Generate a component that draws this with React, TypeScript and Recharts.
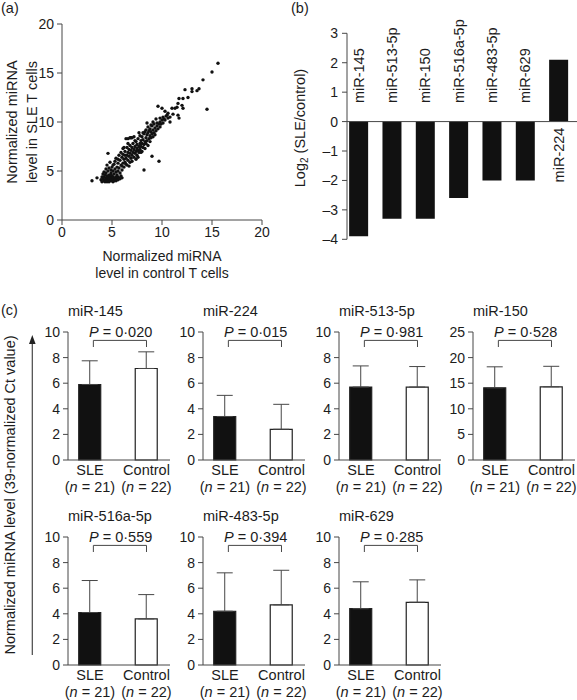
import React from 'react'
import {
  ScatterChart, Scatter, BarChart, Bar, XAxis, YAxis, ReferenceLine,
  Cell, ErrorBar, LabelList
} from 'recharts'

const FONT = '"Liberation Sans", Arial, sans-serif'
const TXT = '#1c1c1c'
const AX = '#474747'

// (a) normalized miRNA level: [control T cells, SLE T cells]
const scatterPoints: [number, number][] = [
  [3.0, 4.0], [3.5, 4.3], [3.9, 4.1], [4.0, 4.4], [4.0, 3.9], [4.1, 4.2], [4.1, 4.7], [4.2, 4.0],
  [4.2, 4.4], [4.3, 4.1], [4.3, 4.6], [4.3, 3.9], [4.4, 4.3], [4.4, 4.0], [4.4, 4.8], [4.5, 4.2],
  [4.5, 4.5], [4.5, 3.9], [4.6, 4.1], [4.6, 4.4], [4.6, 4.0], [4.7, 4.3], [4.7, 4.6], [4.7, 3.9],
  [4.8, 4.2], [4.8, 4.0], [4.8, 4.5], [4.9, 4.1], [4.9, 4.3], [4.9, 4.8], [5.0, 4.0], [5.0, 4.2],
  [5.0, 4.5], [5.1, 4.1], [5.1, 4.4], [5.1, 3.9], [5.2, 4.2], [5.2, 4.0], [5.2, 4.7], [5.3, 4.3],
  [5.3, 4.1], [5.4, 4.0], [5.4, 4.4], [5.5, 4.2], [5.5, 4.6], [5.6, 4.1], [5.6, 4.4], [5.7, 4.3],
  [5.8, 4.2], [5.9, 4.5], [6.0, 4.3], [4.2, 4.9], [4.4, 5.2], [4.6, 5.0], [4.5, 5.6], [4.7, 5.3],
  [4.8, 5.9], [4.9, 5.1], [5.0, 5.4], [5.1, 5.0], [5.2, 5.7], [5.3, 5.2], [5.3, 6.0], [5.4, 4.9],
  [5.5, 5.4], [5.6, 5.0], [5.6, 5.8], [5.7, 5.3], [5.8, 6.1], [5.8, 4.8], [5.9, 5.6], [6.0, 5.1],
  [6.0, 6.4], [4.6, 6.8], [5.7, 6.6], [5.9, 6.9], [6.0, 5.5], [6.2, 7.4], [6.4, 5.7], [6.7, 5.5],
  [6.3, 6.6], [5.1, 5.6], [5.4, 6.3], [4.9, 4.6], [5.6, 6.2], [6.1, 7.3], [6.6, 7.8], [7.3, 8.1],
  [6.1, 5.8], [6.1, 6.7], [6.2, 5.4], [6.2, 6.2], [6.3, 5.9], [6.3, 7.0], [6.4, 6.3], [6.4, 8.3],
  [6.5, 5.6], [6.5, 6.6], [6.5, 7.4], [6.6, 6.1], [6.6, 6.9], [6.6, 8.3], [6.7, 6.5], [6.7, 7.2],
  [6.8, 5.9], [6.8, 6.8], [6.8, 7.6], [6.9, 6.3], [6.9, 7.1], [6.9, 8.4], [7.0, 6.6], [7.0, 7.4],
  [7.0, 6.0], [7.1, 6.9], [7.1, 7.8], [7.2, 6.4], [7.2, 7.2], [7.2, 8.5], [7.3, 6.8], [7.3, 7.5],
  [7.4, 7.0], [7.4, 6.2], [7.4, 8.0], [7.5, 7.3], [7.5, 7.7], [7.5, 6.6], [7.6, 7.1], [7.6, 8.3],
  [7.7, 7.5], [7.7, 6.9], [7.8, 7.8], [7.8, 7.2], [7.8, 8.6], [7.9, 7.5], [7.9, 8.1], [8.0, 7.0],
  [8.0, 7.8], [8.0, 8.5], [8.1, 7.4], [8.1, 8.2], [8.2, 7.7], [8.2, 8.8], [8.2, 5.1], [8.3, 8.0],
  [8.3, 7.3], [8.4, 8.4], [8.4, 7.8], [8.5, 8.7], [8.5, 8.1], [8.5, 9.9], [8.6, 7.6], [8.6, 8.9],
  [8.6, 9.5], [8.7, 8.3], [8.7, 9.1], [8.8, 8.0], [8.8, 8.6], [8.9, 9.0], [8.9, 8.4], [9.0, 8.8],
  [9.0, 9.6], [9.0, 6.5], [9.1, 8.5], [9.1, 9.2], [9.1, 10.0], [9.2, 8.9], [9.3, 9.4], [9.3, 8.7],
  [9.4, 9.1], [9.5, 9.6], [9.5, 9.9], [9.6, 9.3], [9.6, 11.6], [9.7, 9.8], [9.7, 6.0], [9.8, 9.5],
  [9.8, 10.0], [9.8, 10.4], [9.9, 9.8], [10.0, 10.2], [10.0, 11.4], [10.1, 9.9], [10.1, 10.5],
  [10.2, 10.3], [10.3, 10.2], [10.3, 11.1], [10.4, 10.6], [10.5, 10.7], [10.6, 10.9], [10.6, 10.4],
  [10.8, 10.5], [10.8, 10.0], [11.0, 11.4], [11.1, 10.8], [11.3, 11.4], [11.5, 11.5], [11.6, 10.7],
  [11.6, 11.9], [11.7, 12.4], [11.7, 10.4], [12.0, 11.7], [12.1, 11.4], [12.1, 12.4], [12.3, 13.3],
  [12.6, 12.5], [13.0, 13.4], [13.0, 13.1], [13.5, 13.2], [13.7, 13.4], [14.1, 14.3], [14.5, 11.3],
  [15.0, 15.1], [15.6, 16.0], [7.0, 8.4], [6.8, 8.4], [7.6, 6.4], [7.9, 6.9], [8.3, 9.0], [8.4, 9.2],
  [8.8, 9.3], [9.2, 9.8], [9.4, 10.3], [7.7, 8.9], [8.1, 8.9], [8.9, 9.7]
]
const axisTicks20 = [0, 5, 10, 15, 20]

// (b) log2 fold change
const mirB = ['miR-145', 'miR-513-5p', 'miR-150', 'miR-516a-5p', 'miR-483-5p', 'miR-629', 'miR-224']
const log2Ratio = [-3.9, -3.3, -3.3, -2.6, -2.0, -2.0, 2.1]
const log2Ticks = [-4, -3, -2, -1, 0, 1, 2, 3]

// (c) qPCR validation
const cTitles = ['miR-145', 'miR-224', 'miR-513-5p', 'miR-150', 'miR-516a-5p', 'miR-483-5p', 'miR-629']
const pValues = ['0·020', '0·015', '0·981', '0·528', '0·559', '0·394', '0·285']
const sleMean = [5.9, 3.4, 5.7, 14.1, 4.1, 4.2, 4.4]
const sleErr = [1.85, 1.65, 1.65, 4.1, 2.5, 3.0, 2.1]
const ctlMean = [7.15, 2.4, 5.7, 14.3, 3.6, 4.7, 4.9]
const ctlErr = [1.3, 1.95, 1.6, 4.0, 1.9, 2.7, 1.75]
const yMax = [10, 10, 10, 25, 10, 10, 10]
const groups = ['SLE', 'Control']
const groupN = [21, 22]

// layout of the small panels
const subAxisX = [68, 203, 339, 473, 68, 203, 339]
const subPlotTop = [332.3, 332.3, 332.3, 332.3, 536.7, 536.7, 536.7]

const fmtMinus = (v: number) => (v < 0 ? `–${-v}` : `${v}`)

const Dot = (p: any) => <circle cx={p.cx} cy={p.cy} r={1.7} fill="#111" />

const BarNameLabel = (props: any) => {
  const vb = props.viewBox || props
  const { x, y, width, height } = vb
  const idx = mirB.indexOf(props.value)
  const v = log2Ratio[idx]
  const cx = x + width / 2
  const top = Math.min(y, y + height)
  const bottom = Math.max(y, y + height)
  const ay = v < 0 ? top - 18.5 : bottom + 6
  return (
    <text x={cx} y={ay} transform={`rotate(-90 ${cx} ${ay})`} textAnchor={v < 0 ? 'start' : 'end'}
      dy="0.35em" fontSize={14.5} fill={TXT}>{props.value}</text>
  )
}

const GroupTick = (props: any) => {
  const { x, y, payload } = props
  const k = payload.value
  return (
    <g>
      <text x={x} y={y + 15} textAnchor="middle" fontSize={14.5} fill={TXT}>{groups[k]}</text>
      <text x={x} y={y + 31.5} textAnchor="middle" fontSize={14.5} fill={TXT}>
        (<tspan fontStyle="italic">n</tspan> = {groupN[k]})
      </text>
    </g>
  )
}

const Sub = ({ i }: { i: number }) => {
  const PL = 40, PT = 36, PH = 128, PW = 102
  const max = yMax[i]
  const step = max === 25 ? 5 : 2
  const ticks = Array.from({ length: max / step + 1 }, (_, k) => k * step)
  const data = groups.map((g, k) => ({
    idx: k,
    name: g,
    mean: k === 0 ? sleMean[i] : ctlMean[i],
    err: [0, k === 0 ? sleErr[i] : ctlErr[i]]
  }))
  const bt = max * (1 - 8.4 / PH)
  const bb = max * (1 - 15 / PH)
  const line = { stroke: AX, strokeWidth: 1 }
  return (
    <div style={{ position: 'absolute', left: subAxisX[i] - PL, top: subPlotTop[i] - PT }}>
      <BarChart width={PL + PW + 6} height={PT + PH + 40} data={data}
        margin={{ top: PT, left: 0, right: 6, bottom: 0 }}>
        <XAxis type="number" dataKey="idx" domain={[-0.389, 1.416]} ticks={[0, 1]} height={40}
          tickLine={false} tickSize={0} tickMargin={0} tick={<GroupTick />} axisLine={line} />
        <YAxis type="number" domain={[0, max]} ticks={ticks} width={PL} tickSize={5} tickMargin={3}
          interval={0} tick={{ fontSize: 14, fill: TXT }} axisLine={line} tickLine={line} />
        <ReferenceLine segment={[{ x: 0.06, y: bt }, { x: 1.0, y: bt }]} {...line} />
        <ReferenceLine segment={[{ x: 0.06, y: bb }, { x: 0.06, y: bt }]} {...line} />
        <ReferenceLine segment={[{ x: 1.0, y: bb }, { x: 1.0, y: bt }]} {...line} />
        <Bar dataKey="mean" barSize={22} isAnimationActive={false}>
          {data.map((d, k) => (
            <Cell key={d.name} fill={k === 0 ? '#111' : '#fff'} stroke="#222" strokeWidth={1.2} />
          ))}
          <ErrorBar dataKey="err" width={8} stroke={AX} strokeWidth={1} direction="y" />
        </Bar>
      </BarChart>
      <svg width={PL + PW + 40} height={PT + 10}
        style={{ position: 'absolute', left: 0, top: 0, pointerEvents: 'none', overflow: 'visible' }}>
        <text x={PL} y={PT - 16.5} fontSize={14.5} fill={TXT}>{cTitles[i]}</text>
        <text x={PL + 21} y={PT + 5} fontSize={14.5} fill={TXT}>
          <tspan fontStyle="italic">P</tspan> = {pValues[i]}
        </text>
      </svg>
    </div>
  )
}

export default function App() {
  const bData = mirB.map((name, k) => ({ idx: k, name, v: log2Ratio[k] }))
  const line = { stroke: AX, strokeWidth: 1 }
  return (
    <div style={{
      position: 'absolute', left: 0, top: 0, width: 577, height: 700, overflow: 'hidden',
      background: '#fff', fontFamily: FONT
    }}>
      {/* (a) scatter */}
      <div style={{ position: 'absolute', left: 0, top: 0 }}>
        <ScatterChart width={290} height={290} margin={{ top: 24, right: 28, left: 0, bottom: 40 }}>
          <XAxis type="number" dataKey="x" domain={[0, 20]} ticks={axisTicks20} height={30}
            tickSize={5} tickMargin={2} tick={{ fontSize: 14, fill: TXT }} axisLine={line} tickLine={line} />
          <YAxis type="number" dataKey="y" domain={[0, 20]} ticks={axisTicks20} width={62}
            tickSize={5} tickMargin={3} tick={{ fontSize: 14, fill: TXT }} axisLine={line} tickLine={line} />
          <Scatter data={scatterPoints.map(([x, y]) => ({ x, y }))} shape={<Dot />} isAnimationActive={false} />
        </ScatterChart>
      </div>

      {/* (b) log2 ratio */}
      <div style={{ position: 'absolute', left: 290, top: 0 }}>
        <BarChart width={287} height={290} data={bData}
          margin={{ top: 33.3, right: 0, left: 0, bottom: 50.7 }}>
          <XAxis type="number" dataKey="idx" domain={[-0.354, 6.546]} ticks={[0, 1, 2, 3, 4, 5, 6]} hide />
          <YAxis type="number" domain={[-4, 3]} ticks={log2Ticks} width={57} tickSize={5} tickMargin={4}
            interval={0} tickFormatter={fmtMinus} tick={{ fontSize: 14, fill: TXT }}
            axisLine={line} tickLine={line} />
          <Bar dataKey="v" barSize={19} fill="#111" isAnimationActive={false}>
            <LabelList dataKey="name" content={<BarNameLabel />} />
          </Bar>
          <ReferenceLine y={0} {...line} />
        </BarChart>
      </div>

      {cTitles.map((t, i) => <Sub key={t} i={i} />)}

      <svg width={577} height={700} style={{ position: 'absolute', left: 0, top: 0, pointerEvents: 'none' }}
        fontFamily={FONT} fill={TXT}>
        <text x={1} y={12.5} fontSize={14.5}>(a)</text>
        <text x={291} y={12.5} fontSize={14.5}>(b)</text>
        <text x={1} y={315} fontSize={14.5}>(c)</text>

        <text x={162} y={261} textAnchor="middle" fontSize={14}>Normalized miRNA</text>
        <text x={162} y={277.5} textAnchor="middle" fontSize={14}>level in control T cells</text>
        <text x={11.5} y={122} transform="rotate(-90 11.5 122)" textAnchor="middle" dy="0.35em"
          fontSize={14.5}>Normalized miRNA</text>
        <text x={32} y={122} transform="rotate(-90 32 122)" textAnchor="middle" dy="0.35em"
          fontSize={14.5}>level in SLE T cells</text>

        <text x={299.5} y={128} transform="rotate(-90 299.5 128)" textAnchor="middle" dy="0.35em"
          fontSize={14.5}>Log<tspan fontSize={10} dy="3">2</tspan><tspan dy="-3"> (SLE/control)</tspan></text>

        <text x={10} y={495} transform="rotate(-90 10 495)" textAnchor="middle" dy="0.35em"
          fontSize={14.5}>Normalized miRNA level (39-normalized Ct value)</text>
        <line x1={32.3} y1={342} x2={32.3} y2={655} stroke={AX} strokeWidth={1.2} />
        <polygon points="32.3,335 29,344 35.6,344" fill="#222" />
      </svg>
    </div>
  )
}
